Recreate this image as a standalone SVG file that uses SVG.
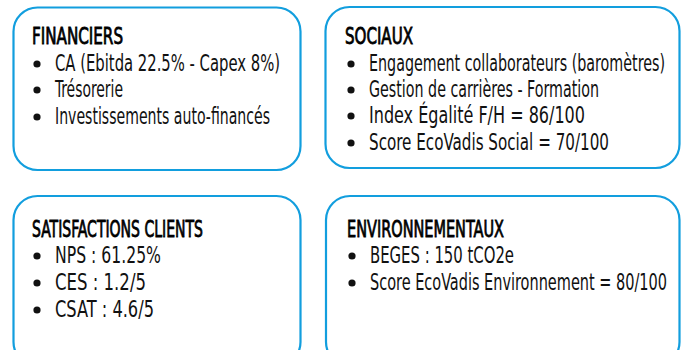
<svg xmlns="http://www.w3.org/2000/svg" width="685" height="350" viewBox="0 0 685 350">
<style>
.box{fill:#fff;stroke:#129ede;stroke-width:2.2}
.t{font-family:"Liberation Sans Narrow","DejaVu Sans Condensed","Liberation Sans",sans-serif;font-size:16px;fill:#111}
.h{fill:#000;stroke:#000;stroke-width:0.55}
.b{fill:#111}
</style>
<rect width="685" height="350" fill="#fff"/>
<g id="financiers">
<rect class="box" x="13.5" y="7.5" width="287" height="162.5" rx="24"/>
<text class="t h" transform="translate(32,44) scale(1,1.45)" textLength="91" lengthAdjust="spacingAndGlyphs">FINANCIERS</text>
<circle class="b" cx="37" cy="64" r="3.6"/><text class="t" transform="translate(55,71) scale(1,1.45)" textLength="225" lengthAdjust="spacingAndGlyphs">CA (Ebitda 22.5% - Capex 8%)</text>
<circle class="b" cx="37" cy="90" r="3.6"/><text class="t" transform="translate(55,97) scale(1,1.45)" textLength="68" lengthAdjust="spacingAndGlyphs">Trésorerie</text>
<circle class="b" cx="37" cy="117" r="3.6"/><text class="t" transform="translate(55,124) scale(1,1.45)" textLength="215" lengthAdjust="spacingAndGlyphs">Investissements auto-financés</text>
</g>
<g id="sociaux">
<rect class="box" x="325.5" y="7" width="354" height="161" rx="24"/>
<text class="t h" transform="translate(345,44) scale(1,1.45)" textLength="68" lengthAdjust="spacingAndGlyphs">SOCIAUX</text>
<circle class="b" cx="351" cy="64" r="3.6"/><text class="t" transform="translate(369,71) scale(1,1.45)" textLength="296" lengthAdjust="spacingAndGlyphs">Engagement collaborateurs (baromètres)</text>
<circle class="b" cx="351" cy="90" r="3.6"/><text class="t" transform="translate(369,97) scale(1,1.45)" textLength="230" lengthAdjust="spacingAndGlyphs">Gestion de carrières - Formation</text>
<circle class="b" cx="351" cy="116" r="3.6"/><text class="t" transform="translate(369,123) scale(1,1.45)" textLength="216" lengthAdjust="spacingAndGlyphs">Index Égalité F/H = 86/100</text>
<circle class="b" cx="351" cy="143" r="3.6"/><text class="t" transform="translate(369,150) scale(1,1.45)" textLength="240" lengthAdjust="spacingAndGlyphs">Score EcoVadis Social = 70/100</text>
</g>
<g id="satisfactions">
<rect class="box" x="13.5" y="196" width="287" height="170" rx="24"/>
<text class="t h" transform="translate(32,237) scale(1,1.45)" textLength="171" lengthAdjust="spacingAndGlyphs">SATISFACTIONS CLIENTS</text>
<circle class="b" cx="37" cy="256" r="3.6"/><text class="t" transform="translate(55,263) scale(1,1.45)" textLength="106" lengthAdjust="spacingAndGlyphs">NPS : 61.25%</text>
<circle class="b" cx="37" cy="283" r="3.6"/><text class="t" transform="translate(55,290) scale(1,1.45)" textLength="91" lengthAdjust="spacingAndGlyphs">CES : 1.2/5</text>
<circle class="b" cx="37" cy="310" r="3.6"/><text class="t" transform="translate(55,317) scale(1,1.45)" textLength="99" lengthAdjust="spacingAndGlyphs">CSAT : 4.6/5</text>
</g>
<g id="environnementaux">
<rect class="box" x="326" y="196" width="353.5" height="170" rx="24"/>
<text class="t h" transform="translate(347,237) scale(1,1.45)" textLength="157" lengthAdjust="spacingAndGlyphs">ENVIRONNEMENTAUX</text>
<circle class="b" cx="352" cy="256" r="3.6"/><text class="t" transform="translate(370,263) scale(1,1.45)" textLength="144" lengthAdjust="spacingAndGlyphs">BEGES : 150 tCO2e</text>
<circle class="b" cx="352" cy="283" r="3.6"/><text class="t" transform="translate(370,290) scale(1,1.45)" textLength="297" lengthAdjust="spacingAndGlyphs">Score EcoVadis Environnement = 80/100</text>
</g>
<g id="connectors"/>
</svg>
